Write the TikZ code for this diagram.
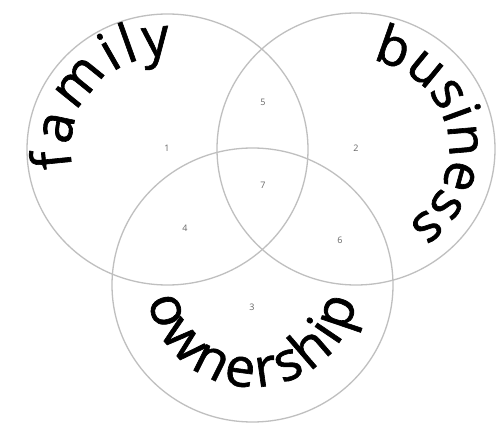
\documentclass[tikz,border=0pt]{standalone}
\usepackage{fontspec}
\setmainfont{Open Sans}
\newfontfamily\lblfont[FakeBold=1.2]{Open Sans}
\usetikzlibrary{decorations.text}
\begin{document}
\begin{tikzpicture}[x=1pt,y=1pt,
  ring/.style={draw=black!25, line width=1.3pt},
  num/.style={text=black!60, font=\fontsize{9}{9}\selectfont},
  bigtxt/.style 2 args={decorate, decoration={text along path, text align=fit to path,
     text={|\lblfont\fontsize{#2}{#2}\selectfont|#1}}}]
\useasboundingbox (0,0) rectangle (499,-425);
\fill[white] (0,0) rectangle (499,-425);
\coordinate (cf) at (167.5,-149.5);
\coordinate (cb) at (356,-149);
\coordinate (co) at (252.5,-285);
\draw[ring] (cf) ellipse[x radius=140.5, y radius=135.5];
\draw[ring] (cb) ellipse[x radius=139, y radius=136];
\draw[ring] (co) ellipse[x radius=140.5, y radius=137];
% curved labels
\path[bigtxt={family}{54}] (cf) ++(191:97 and 94) arc[start angle=191, end angle=88, x radius=97, y radius=94];
\path[bigtxt={business}{53}] (cb) ++(80:93 and 90) arc[start angle=80, end angle=-54, x radius=93, y radius=90];
\path[bigtxt={ownership}{54}] (co) ++(188:105 and 102) arc[start angle=188, end angle=351, x radius=105, y radius=102];
% region numbers
\node[num] (n1) at (167,-148) {1};
\node[num] (n2) at (356,-148) {2};
\node[num] (n3) at (252,-307) {3};
\node[num] (n4) at (185,-228) {4};
\node[num] (n5) at (263,-102) {5};
\node[num] (n6) at (340,-240) {6};
\node[num] (n7) at (263,-185) {7};
\end{tikzpicture}
\end{document}
